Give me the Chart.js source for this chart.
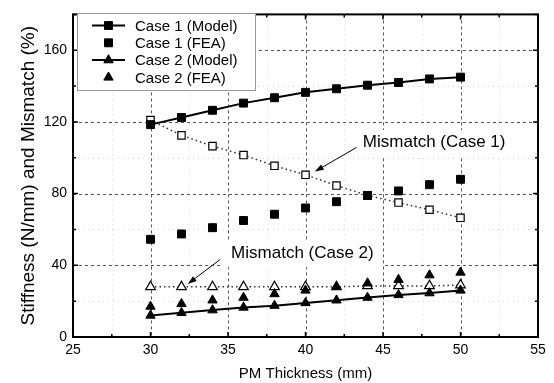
<!DOCTYPE html>
<html>
<head>
<meta charset="utf-8">
<script src="https://cdn.jsdelivr.net/npm/chart.js@4/dist/chart.umd.min.js"></script>
<style>
  html, body { margin: 0; padding: 0; background: #fff; }
  #wrap { width: 554px; height: 383px; }
</style>
</head>
<body>
<div id="wrap"><canvas id="chart"></canvas></div>
<script>
// PM thickness (mm)
const thickness = [30, 32, 34, 36, 38, 40, 42, 44, 46, 48, 50];

const case1Model = [118.5, 122.5, 126.5, 130.5, 133.5, 136.5, 138.5, 140.5, 142, 144, 145];
const case1FEA   = [54.5, 57.5, 61, 65, 68.5, 72, 75.5, 79, 81.5, 85, 88];
const mismatch1  = [121, 112.5, 106.5, 101.5, 95.5, 90.5, 84.5, 79, 75, 71, 66.5];

const case2Model = [12, 13.5, 15, 16.5, 17.5, 19, 20.5, 22, 23.5, 24.5, 26];
const case2FEA   = [17, 18.5, 20.5, 22, 24, 26, 28, 30, 32, 34.5, 36];
const mismatch2  = [28, 28, 28, 28, 28, 28, 28, 28.5, 28.5, 28.5, 29];

const xTicks = [25, 30, 35, 40, 45, 50, 55];
const xMinor = [27.5, 32.5, 37.5, 42.5, 47.5, 52.5];
const yTicks = [0, 40, 80, 120, 160];
const yMinor = [20, 60, 100, 140, 180];

// text label position, arrow start and arrow tip (data units)
const notes = [
  { text: 'Mismatch (Case 1)', at: [43.7, 106], from: [43.3, 105.8], to: [40.6, 92.3] },
  { text: 'Mismatch (Case 2)', at: [35.2, 44], from: [34.5, 43.3], to: [32.4, 29.6] }
];

const FONT = "'Liberation Sans', Arial, sans-serif";
Chart.defaults.font.family = FONT;
Chart.defaults.color = '#000';

function pts(ys) {
  return thickness.map((x, i) => ({ x: x, y: ys[i] }));
}

function marker(ctx, style, radius, fill, bw, x, y) {
  ctx.save();
  ctx.fillStyle = fill;
  ctx.strokeStyle = '#000';
  ctx.lineWidth = bw;
  ctx.setLineDash([]);
  Chart.helpers.drawPoint(ctx, { pointStyle: style, radius: radius, rotation: 0, borderWidth: bw }, x, y);
  ctx.restore();
}

const framePlugin = {
  id: 'frame',
  beforeDatasetsDraw(chart) {
    const { ctx, chartArea: a, scales: { x, y } } = chart;
    ctx.save();
    ctx.lineWidth = 1;

    // faint minor grid
    ctx.strokeStyle = '#d4d4d4';
    ctx.setLineDash([1, 4]);
    xMinor.forEach(v => {
      const px = Math.round(x.getPixelForValue(v)) + 0.5;
      ctx.beginPath(); ctx.moveTo(px, a.top); ctx.lineTo(px, a.bottom); ctx.stroke();
    });
    yMinor.slice(0, -1).forEach(v => {
      const py = Math.round(y.getPixelForValue(v)) + 0.5;
      ctx.beginPath(); ctx.moveTo(a.left, py); ctx.lineTo(a.right, py); ctx.stroke();
    });

    // major dashed grid
    ctx.strokeStyle = '#555';
    ctx.setLineDash([3, 3]);
    xTicks.slice(1, -1).forEach(v => {
      const px = Math.round(x.getPixelForValue(v)) + 0.5;
      ctx.beginPath(); ctx.moveTo(px, a.top); ctx.lineTo(px, a.bottom); ctx.stroke();
    });
    yTicks.slice(1).forEach(v => {
      const py = Math.round(y.getPixelForValue(v)) + 0.5;
      ctx.beginPath(); ctx.moveTo(a.left, py); ctx.lineTo(a.right, py); ctx.stroke();
    });
    ctx.setLineDash([]);

    // annotations
    ctx.font = '17px ' + FONT;
    ctx.textBaseline = 'alphabetic';
    ctx.textAlign = 'left';
    notes.forEach(n => {
      const tx = x.getPixelForValue(n.at[0]);
      const ty = y.getPixelForValue(n.at[1]);
      const w = ctx.measureText(n.text).width;
      ctx.fillStyle = '#fff';
      ctx.fillRect(tx - 9, ty - 17, w + 17, 26);
      ctx.fillStyle = '#000';
      ctx.fillText(n.text, tx, ty);

      const x1 = x.getPixelForValue(n.from[0]), y1 = y.getPixelForValue(n.from[1]);
      const x2 = x.getPixelForValue(n.to[0]), y2 = y.getPixelForValue(n.to[1]);
      const ang = Math.atan2(y2 - y1, x2 - x1);
      ctx.strokeStyle = '#000';
      ctx.lineWidth = 1;
      ctx.beginPath(); ctx.moveTo(x1, y1); ctx.lineTo(x2 - 6 * Math.cos(ang), y2 - 6 * Math.sin(ang)); ctx.stroke();
      ctx.beginPath();
      ctx.moveTo(x2, y2);
      ctx.lineTo(x2 - 9 * Math.cos(ang) + 3 * Math.sin(ang), y2 - 9 * Math.sin(ang) - 3 * Math.cos(ang));
      ctx.lineTo(x2 - 9 * Math.cos(ang) - 3 * Math.sin(ang), y2 - 9 * Math.sin(ang) + 3 * Math.cos(ang));
      ctx.closePath();
      ctx.fillStyle = '#000';
      ctx.fill();
    });
    ctx.restore();
  },
  afterDatasetsDraw(chart) {
    const { ctx, chartArea: a, scales: { x, y } } = chart;
    ctx.save();

    // frame
    ctx.strokeStyle = '#000';
    ctx.lineWidth = 2;
    ctx.strokeRect(a.left, a.top, a.right - a.left, a.bottom - a.top);

    // inward ticks on all four sides
    ctx.lineWidth = 1.5;
    const tickX = (v, len) => {
      const px = x.getPixelForValue(v);
      ctx.beginPath();
      ctx.moveTo(px, a.bottom); ctx.lineTo(px, a.bottom - len);
      ctx.moveTo(px, a.top); ctx.lineTo(px, a.top + len);
      ctx.stroke();
    };
    const tickY = (v, len) => {
      const py = y.getPixelForValue(v);
      ctx.beginPath();
      ctx.moveTo(a.left, py); ctx.lineTo(a.left + len, py);
      ctx.moveTo(a.right, py); ctx.lineTo(a.right - len, py);
      ctx.stroke();
    };
    xTicks.forEach(v => tickX(v, 5));
    xMinor.forEach(v => tickX(v, 3));
    yTicks.forEach(v => tickY(v, 5));
    yMinor.forEach(v => tickY(v, 3));

    // legend box
    const bx = 77, by = 13, bw = 178, bh = 77;
    ctx.fillStyle = '#fff';
    ctx.fillRect(bx, by, bw, bh);
    ctx.strokeStyle = '#999';
    ctx.lineWidth = 1;
    ctx.strokeRect(bx + 0.5, by + 0.5, bw, bh);

    ctx.font = '15px ' + FONT;
    ctx.textBaseline = 'middle';
    ctx.fillStyle = '#000';
    const items = chart.data.datasets.filter(d => d.inLegend);
    items.forEach((d, i) => {
      const ly = by + 12.5 + i * 17.3;
      if (d.showLine) {
        ctx.strokeStyle = '#000';
        ctx.lineWidth = d.borderWidth;
        ctx.beginPath(); ctx.moveTo(92, ly); ctx.lineTo(125, ly); ctx.stroke();
      }
      marker(ctx, d.pointStyle, d.pointRadius, d.pointBackgroundColor, d.pointBorderWidth, 108.5, ly);
      ctx.fillStyle = '#000';
      ctx.fillText(d.label, 135, ly + 1);
    });
    ctx.restore();
  }
};

const solid = { borderColor: '#000', borderWidth: 2, pointBorderColor: '#000', pointBorderWidth: 1 };

new Chart(document.getElementById('chart'), {
  type: 'line',
  data: {
    datasets: [
      Object.assign({ label: 'Case 1 (Model)', data: pts(case1Model), showLine: true, inLegend: true,
        pointStyle: 'rect', pointRadius: 5.6, pointBackgroundColor: '#000' }, solid),
      Object.assign({ label: 'Case 1 (FEA)', data: pts(case1FEA), showLine: false, inLegend: true,
        pointStyle: 'rect', pointRadius: 5.6, pointBackgroundColor: '#000' }, solid),
      Object.assign({ label: 'Case 2 (Model)', data: pts(case2Model), showLine: true, inLegend: true,
        pointStyle: 'triangle', pointRadius: 5.4, pointBackgroundColor: '#000' }, solid),
      Object.assign({ label: 'Case 2 (FEA)', data: pts(case2FEA), showLine: false, inLegend: true,
        pointStyle: 'triangle', pointRadius: 5.4, pointBackgroundColor: '#000' }, solid),
      { label: 'Mismatch (Case 1)', data: pts(mismatch1), showLine: true, inLegend: false,
        borderColor: '#333', borderWidth: 1.5, borderDash: [1.5, 3],
        pointStyle: 'rect', pointRadius: 5.2, pointBackgroundColor: '#fff',
        pointBorderColor: '#000', pointBorderWidth: 1.2 },
      { label: 'Mismatch (Case 2)', data: pts(mismatch2), showLine: true, inLegend: false,
        borderColor: '#333', borderWidth: 1.5, borderDash: [1.5, 3],
        pointStyle: 'triangle', pointRadius: 5.6, pointBackgroundColor: '#fff',
        pointBorderColor: '#000', pointBorderWidth: 1.2 }
    ]
  },
  options: {
    responsive: true,
    maintainAspectRatio: false,
    animation: false,
    layout: { padding: { top: 10, right: 16, left: 0, bottom: 0 } },
    plugins: {
      legend: { display: false },
      tooltip: { enabled: false }
    },
    scales: {
      x: {
        type: 'linear',
        min: 25,
        max: 55,
        afterBuildTicks: s => { s.ticks = xTicks.map(v => ({ value: v })); },
        afterFit: s => { s.height = 46; },
        grid: { display: false, drawTicks: false },
        border: { display: false },
        ticks: { color: '#000', font: { size: 14 }, padding: 5, maxRotation: 0, autoSkip: false },
        title: { display: true, text: 'PM Thickness (mm)', color: '#000',
          font: { size: 15 }, padding: { top: 0, bottom: 0 } }
      },
      y: {
        type: 'linear',
        min: 0,
        max: 180,
        afterBuildTicks: s => { s.ticks = yTicks.map(v => ({ value: v })); },
        afterFit: s => { s.width = 73; },
        grid: { display: false, drawTicks: false },
        border: { display: false },
        ticks: { color: '#000', font: { size: 14 }, padding: 6, autoSkip: false },
        title: { display: true, text: 'Stiffness (N/mm) and Mismatch (%)', color: '#000',
          font: { size: 19 }, padding: { top: 17, bottom: 0 } }
      }
    }
  },
  plugins: [framePlugin]
});
</script>
</body>
</html>
